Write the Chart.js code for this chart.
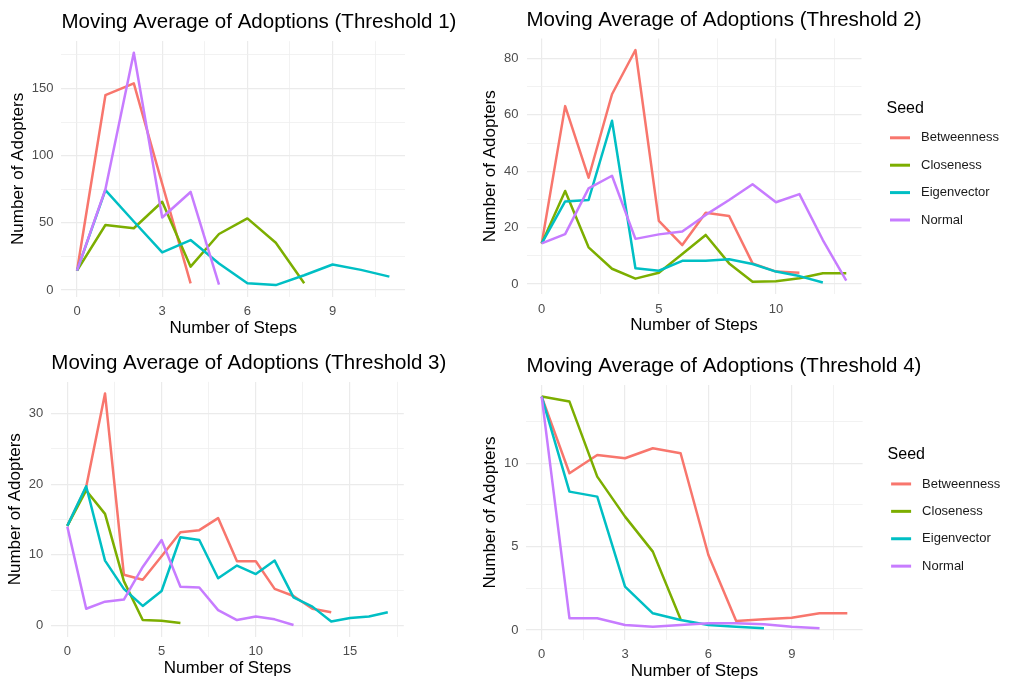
<!DOCTYPE html>
<html lang="en">
<head>
<meta charset="UTF-8" />
<title>Moving Average of Adoptions</title>
<style>
  body { margin: 0; background: #ffffff; }
  .panel { position: absolute; }
</style>
</head>
<body>
<div class="panel" style="left:0;top:0"><canvas id="t1" width="470" height="342"></canvas></div>
<div class="panel" style="left:470px;top:0"><canvas id="t2" width="559" height="342"></canvas></div>
<div class="panel" style="left:0;top:342px"><canvas id="t3" width="470" height="338"></canvas></div>
<div class="panel" style="left:470px;top:342px"><canvas id="t4" width="559" height="338"></canvas></div>

<script src="https://cdn.jsdelivr.net/npm/chart.js@4.4.0/dist/chart.umd.min.js"></script>
<script>
// seed strategies and their line colours
const seeds = ["Betweenness", "Closeness", "Eigenvector", "Normal"];
const seedColors = ["#F8766D", "#7CAE00", "#00BFC4", "#C77CFF"];

// threshold 1 (index = step)
const t1Betweenness = [14.4, 145, 153.8, 79, 5];
const t1Closeness = [14.4, 48.4, 46, 65.7, 17.4, 41.7, 53.3, 35.2, 5];
const t1Eigenvector = [14.4, 74.4, 51, 28, 37.2, 19.8, 5, 3.7, 11, 19, 15, 10];
const t1Normal = [14.4, 75, 176.6, 54, 73, 4];

// threshold 2
const t2Betweenness = [14.4, 63.1, 37.7, 67.3, 83, 22.4, 13.8, 25.3, 24.1, 7.3, 4.4, 4];
const t2Closeness = [14.4, 33, 13, 5.4, 1.9, 4, 10.6, 17.4, 7.3, 0.8, 1, 2, 3.8, 3.8];
const t2Eigenvector = [14.4, 29.3, 29.8, 57.9, 5.6, 4.7, 8.2, 8.2, 8.8, 7.1, 4.4, 2.8, 0.5];
const t2Normal = [14.4, 17.7, 33.9, 38.4, 16, 17.6, 18.6, 24.5, 29.8, 35.4, 29, 31.9, 15.6, 1.2];

// threshold 3
const t3Betweenness = [14.1, 19.6, 32.8, 7.2, 6.5, 9.8, 13.2, 13.5, 15.2, 9.1, 9.1, 5.2, 4.2, 2.4, 1.9];
const t3Closeness = [14.1, 19.1, 15.8, 6.3, 0.8, 0.7, 0.4];
const t3Eigenvector = [14.1, 19.7, 9.2, 5.2, 2.8, 4.9, 12.5, 12.1, 6.7, 8.5, 7.3, 9.2, 4, 2.7, 0.6, 1.1, 1.3, 1.9];
const t3Normal = [14, 2.4, 3.4, 3.7, 8.3, 12.1, 5.5, 5.4, 2.2, 0.8, 1.3, 0.9, 0.1];

// threshold 4
const t4Betweenness = [14, 9.4, 10.5, 10.3, 10.9, 10.6, 4.5, 0.54, 0.64, 0.74, 1.0, 1.0];
const t4Closeness = [14, 13.7, 9.2, 6.8, 4.7, 0.64];
const t4Eigenvector = [14, 8.3, 8.0, 2.6, 1.0, 0.6, 0.3, 0.2, 0.1];
const t4Normal = [14, 0.7, 0.7, 0.3, 0.2, 0.3, 0.4, 0.4, 0.35, 0.2, 0.1];

// tick spacing per panel: [x major, y major]
const t1Ticks = [3, 50];
const t2Ticks = [5, 20];
const t3Ticks = [5, 10];
const t4Ticks = [3, 5];

const FONT = '"Liberation Sans", Arial, sans-serif';
Chart.defaults.font.family = FONT;

function isMajor(v, major) {
  const r = Math.abs(v / major - Math.round(v / major));
  return r < 1e-6;
}

// titles, axis titles and the "Seed" legend, ggplot style
const annotate = {
  id: "annotate",
  afterDraw(chart, args, opts) {
    const { ctx, chartArea: a } = chart;
    ctx.save();
    ctx.fillStyle = "#000000";
    ctx.textBaseline = "middle";

    ctx.textAlign = "left";
    ctx.font = "20.5px " + FONT;
    ctx.fillText(opts.title, a.left, a.top - 18.5);

    ctx.textAlign = "center";
    ctx.font = "17px " + FONT;
    ctx.fillText("Number of Steps", (a.left + a.right) / 2, a.bottom + 31.5);

    ctx.font = "13px " + FONT;
    let labelW = 0;
    chart.scales.y.ticks.forEach((t) => {
      if (t.label) labelW = Math.max(labelW, ctx.measureText(t.label).width);
    });
    ctx.font = "17px " + FONT;
    ctx.translate(a.left - 8 - labelW - 13.5, (a.top + a.bottom) / 2);
    ctx.rotate(-Math.PI / 2);
    ctx.fillText("Number of Adopters", 0, 0);
    ctx.restore();

    if (opts.legend) {
      const cy = (a.top + a.bottom) / 2;
      ctx.save();
      ctx.textBaseline = "middle";
      ctx.textAlign = "left";
      ctx.fillStyle = "#000000";
      ctx.font = "16px " + FONT;
      ctx.fillText("Seed", a.right + 25, cy - 57.5);
      ctx.font = "13px " + FONT;
      seeds.forEach((s, i) => {
        const y = cy - 28.5 + i * 27.4;
        ctx.strokeStyle = seedColors[i];
        ctx.lineWidth = 3;
        ctx.beginPath();
        ctx.moveTo(a.right + 28.5, y);
        ctx.lineTo(a.right + 48.5, y);
        ctx.stroke();
        ctx.fillStyle = "#1a1a1a";
        ctx.fillText(s, a.right + 59.5, y);
      });
      ctx.restore();
    }
  },
};

function makePanel(id, title, series, ticks, box, legend) {
  const all = series.flat();
  const lo = Math.min(...all);
  const hi = Math.max(...all);
  const yPad = (hi - lo) * 0.05;
  const n = Math.max(...series.map((s) => s.length)) - 1;
  const xPad = n * 0.05;

  const datasets = series.map((vals, i) => ({
    label: seeds[i],
    data: vals.map((v, step) => ({ x: step, y: v })),
    borderColor: seedColors[i],
    borderWidth: 2.5,
    borderCapStyle: "butt",
    borderJoinStyle: "round",
    pointRadius: 0,
    tension: 0,
    fill: false,
    order: series.length - i,
  }));

  const axis = (major, lo, hi, pad) => ({
    type: "linear",
    min: lo - pad,
    max: hi + pad,
    border: { display: false },
    grid: {
      drawTicks: false,
      color: (c) => (isMajor(c.tick.value, major) ? "#EBEBEB" : "#EFEFEF"),
      lineWidth: (c) => (isMajor(c.tick.value, major) ? 1.2 : 0.8),
    },
    ticks: {
      stepSize: major / 2,
      includeBounds: false,
      autoSkip: false,
      maxRotation: 0,
      color: "#4D4D4D",
      font: { size: 13, family: FONT },
      callback: (v) => (isMajor(v, major) ? String(Math.round(v)) : ""),
    },
  });

  const xAxis = axis(ticks[0], 0, n, xPad);
  xAxis.ticks.padding = 7;
  xAxis.afterFit = (s) => { s.height = box.h - box.b; };
  const yAxis = axis(ticks[1], lo, hi, yPad);
  yAxis.ticks.padding = 8;
  yAxis.afterFit = (s) => { s.width = box.l; };

  new Chart(document.getElementById(id), {
    type: "line",
    data: { datasets },
    options: {
      responsive: false,
      animation: false,
      layout: { padding: { left: 0, top: box.t, right: box.w - box.r, bottom: 0 } },
      scales: { x: xAxis, y: yAxis },
      plugins: {
        legend: { display: false },
        tooltip: { enabled: false },
        annotate: { title, legend },
      },
    },
    plugins: [annotate],
  });
}

makePanel("t1", "Moving Average of Adoptions (Threshold 1)",
  [t1Betweenness, t1Closeness, t1Eigenvector, t1Normal], t1Ticks,
  { w: 470, h: 342, l: 61.4, t: 41.1, r: 405, b: 296.7 }, false);
makePanel("t2", "Moving Average of Adoptions (Threshold 2)",
  [t2Betweenness, t2Closeness, t2Eigenvector, t2Normal], t2Ticks,
  { w: 559, h: 342, l: 56.5, t: 38.4, r: 391.5, b: 294.2 }, true);
makePanel("t3", "Moving Average of Adoptions (Threshold 3)",
  [t3Betweenness, t3Closeness, t3Eigenvector, t3Normal], t3Ticks,
  { w: 470, h: 338, l: 51.3, t: 39.9, r: 403.8, b: 294.6 }, false);
makePanel("t4", "Moving Average of Adoptions (Threshold 4)",
  [t4Betweenness, t4Closeness, t4Eigenvector, t4Normal], t4Ticks,
  { w: 559, h: 338, l: 56.4, t: 43, r: 392.6, b: 297.9 }, true);
</script>
</body>
</html>
